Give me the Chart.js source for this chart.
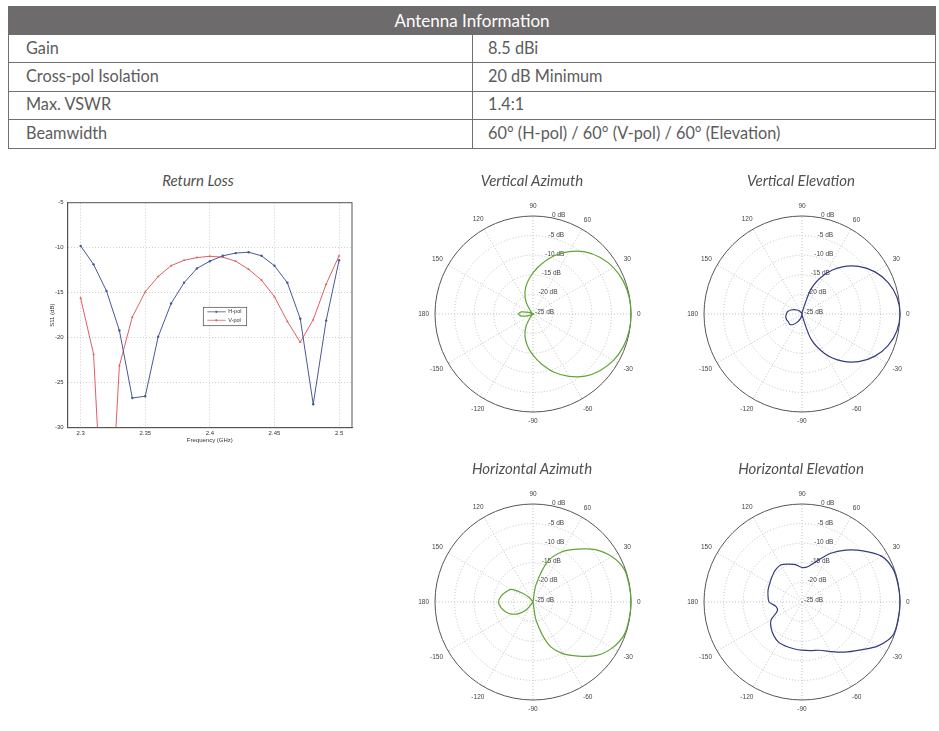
<!DOCTYPE html>
<html><head><meta charset="utf-8">
<script src="https://cdn.jsdelivr.net/npm/chart.js@4.4.1/dist/chart.umd.min.js"></script>
<style>
html,body{margin:0;padding:0;background:#fff;width:939px;height:731px;overflow:hidden;font-family:Lato,'Open Sans',sans-serif;}
.abs{position:absolute;}
.ttl{position:absolute;font-style:italic;font-size:15px;color:#505050;white-space:nowrap;transform:translateX(-50%);line-height:20px;z-index:5;}
.cell{position:absolute;font-size:16.3px;color:#5c5c5c;white-space:nowrap;line-height:20px;}
</style></head><body>
<div id="page"></div>
<script>
// ---------------- data ----------------
const tableHeader = 'Antenna Information';
const specNames  = ['Gain', 'Cross-pol Isolation', 'Max. VSWR', 'Beamwidth'];
const specValues = ['8.5 dBi', '20 dB Minimum', '1.4:1', '60° (H-pol) / 60° (V-pol) / 60° (Elevation)'];

const chartTitles = ['Return Loss', 'Vertical Azimuth', 'Vertical Elevation', 'Horizontal Azimuth', 'Horizontal Elevation'];

// Return loss
const freqGHz  = [2.30,2.31,2.32,2.33,2.34,2.35,2.36,2.37,2.38,2.39,2.40,2.41,2.42,2.43,2.44,2.45,2.46,2.47,2.48,2.49,2.50];
const s11HPol  = [-9.8,-11.85,-14.8,-19.2,-26.7,-26.5,-19.9,-16.2,-13.9,-12.3,-11.5,-10.9,-10.6,-10.5,-10.9,-12.0,-13.9,-17.9,-27.4,-18.1,-11.4];
const s11VPol  = [-15.6,-21.8,-49,-23.1,-17.7,-14.9,-13.2,-12.0,-11.4,-11.1,-10.95,-11.05,-11.5,-12.4,-13.6,-15.45,-18.2,-20.5,-18.0,-14.05,-10.9];
const freqTicks = [2.3, 2.35, 2.4, 2.45, 2.5];
const s11Ticks  = [-5, -10, -15, -20, -25, -30];
const seriesNames = ['H-pol', 'V-pol'];

// Radiation patterns (dB), angle order clockwise starting at 90° (top)
const patternAngles = [90,80,70,60,50,40,30,20,10,0,-10,-20,-30,-40,-50,-60,-70,-80,-90,-100,-110,-120,-130,-140,-150,-160,-170,180,170,160,150,140,130,120,110,100];
const angleTickLabels = [90,60,30,0,-30,-60,-90,-120,-150,180,150,120];
const ringTicks = [0,-5,-10,-15,-20,-25];

const vertAzimuth = [-14.5,-12,-9.2,-6.6,-4.3,-2.6,-1.3,-0.5,-0.1,0,
  -0.1,-0.5,-1.3,-2.6,-4.3,-6.6,-9.2,-12,-14.5,-16.8,-19,-21.5,-24,-25,-25,-23.8,-22,
  -21.3,
  -22,-23.8,-25,-25,-24,-21.5,-19,-16.8];
const vertElevation = [-25,-24.3,-18.1,-13.3,-9.4,-6.1,-3.5,-1.6,-0.4,0,
  -0.4,-1.6,-3.5,-6.1,-9.4,-13.3,-18.1,-24.3,-25,-24.5,-23.6,-22.6,-21.5,-20.9,-21.0,-20.8,-20.8,
  -21.0,
  -21.3,-22.0,-22.8,-23.4,-24.0,-24.6,-25,-25];
const horizAzimuth = [-25,-20.5,-14,-10.2,-7.4,-4.2,-1.8,-0.3,-0.1,0,
  -0.1,-0.3,-1.6,-3.8,-7.0,-9.8,-13.5,-20,-25,-25,-25,-25,-22.5,-20.5,-18.8,-17.6,-16.7,
  -16.2,
  -16.7,-17.6,-18.6,-21.5,-23.5,-25,-25,-25];
const horizElevation = [-16.2,-15.8,-13.9,-10.7,-7.7,-4.7,-1.6,-0.3,-0.1,0,
  -0.1,-0.3,-2.6,-5.9,-8.3,-10.4,-11.9,-12.4,-12.7,-12.9,-13.0,-13.1,-13.8,-14.7,-15.9,-18.3,-18.3,
  -16.6,
  -16.2,-15.8,-15.5,-15.0,-14.4,-14.1,-14.7,-15.3];

// ---------------- page helpers ----------------
const page = document.getElementById('page');
function box(css, text, cls) {
  const d = document.createElement('div');
  d.className = cls || 'abs';
  d.style.cssText += css;
  if (text !== undefined) d.textContent = text;
  page.appendChild(d);
  return d;
}
function makeCanvas(left, top, w, h) {
  const c = document.createElement('canvas');
  c.width = w; c.height = h;
  c.style.cssText = 'position:absolute;left:' + left + 'px;top:' + top + 'px;width:' + w + 'px;height:' + h + 'px;';
  page.appendChild(c);
  return c;
}

// ---------------- table ----------------
const lineCol = '#707070';
box('left:8px;top:6px;width:928px;height:29px;background:#6d6b6b;color:#fff;font-size:17px;line-height:29px;text-align:center;', tableHeader);
const rowTop = [35, 62, 90.5, 119, 147.5];
box('left:8px;top:35px;width:1px;height:113px;background:' + lineCol + ';');
box('left:935px;top:35px;width:1px;height:113px;background:' + lineCol + ';');
box('left:472px;top:35px;width:1px;height:113px;background:' + lineCol + ';');
for (let i = 1; i < rowTop.length; i++) {
  box('left:8px;top:' + rowTop[i] + 'px;width:928px;height:1px;background:' + lineCol + ';');
}
specNames.forEach((n, i) => {
  const mid = (rowTop[i] + rowTop[i + 1]) / 2;
  box('left:26px;top:' + (mid - 10.5) + 'px;', n, 'cell');
  box('left:488px;top:' + (mid - 10.5) + 'px;', specValues[i], 'cell');
});

// ---------------- titles ----------------
const titlePos = [[198, 170], [532, 170], [801, 170], [532, 458], [801, 458]];
chartTitles.forEach((t, i) => box('left:' + titlePos[i][0] + 'px;top:' + titlePos[i][1] + 'px;', t, 'ttl'));

// ---------------- return loss ----------------
const smallFont = {family: '"Liberation Sans", Arial, sans-serif', size: 6};
const rlColors = ['#47589a', '#e05f62'];
const rlFrame = {
  id: 'rlFrame',
  afterDatasetsDraw(chart) {
    const {ctx, chartArea: a} = chart;
    ctx.save();
    ctx.strokeStyle = '#555'; ctx.lineWidth = 1;
    ctx.strokeRect(a.left, a.top, a.right - a.left, a.bottom - a.top);
    const lx = a.left + 135.6, ly = a.top + 104.6, w = 43.4, h = 18.4;
    ctx.fillStyle = '#fff'; ctx.fillRect(lx, ly, w, h);
    ctx.strokeStyle = '#444'; ctx.lineWidth = 0.7; ctx.strokeRect(lx, ly, w, h);
    chart.data.datasets.forEach((ds, i) => {
      const y = ly + 4.5 + i * 8.5;
      ctx.strokeStyle = ds.borderColor; ctx.lineWidth = 0.8;
      ctx.beginPath(); ctx.moveTo(lx + 4, y); ctx.lineTo(lx + 22.5, y); ctx.stroke();
      ctx.fillStyle = ds.borderColor;
      ctx.beginPath(); ctx.arc(lx + 13, y, 1.1, 0, Math.PI * 2); ctx.fill();
      ctx.fillStyle = '#333'; ctx.font = '5.5px "Liberation Sans", Arial, sans-serif';
      ctx.textBaseline = 'middle'; ctx.textAlign = 'left';
      ctx.fillText(ds.label, lx + 25, y);
    });
    ctx.restore();
  }
};
new Chart(makeCanvas(30, 192, 335, 256), {
  type: 'line',
  data: {
    datasets: [
      {label: seriesNames[0], data: freqGHz.map((f, i) => ({x: f, y: s11HPol[i]})),
       borderColor: rlColors[0], backgroundColor: rlColors[0], borderWidth: 1,
       pointRadius: 1.2, pointStyle: 'circle', pointBorderWidth: 0, tension: 0},
      {label: seriesNames[1], data: freqGHz.map((f, i) => ({x: f, y: s11VPol[i]})),
       borderColor: rlColors[1], backgroundColor: rlColors[1], borderWidth: 1,
       pointRadius: 1.5, pointStyle: 'triangle', pointBorderWidth: 0, tension: 0}
    ]
  },
  options: {
    responsive: false, animation: false,
    layout: {padding: {left: 16, top: 10.7, right: 13, bottom: 0}},
    plugins: {legend: {display: false}, tooltip: {enabled: false}},
    scales: {
      x: {type: 'linear', min: 2.29, max: 2.51,
        afterBuildTicks: s => { s.ticks = freqTicks.map(v => ({value: v})); },
        afterFit: s => { s.height = 20.3; },
        ticks: {padding: 2, font: smallFont, color: '#333', maxRotation: 0, autoSkip: false, callback: v => String(v)},
        grid: {color: '#c2c2c2', lineWidth: 0.8, drawTicks: false},
        border: {display: true, color: '#555', width: 1, dash: [1, 2]},
        title: {display: true, text: 'Frequency (GHz)', font: smallFont, color: '#333', padding: {top: 0, bottom: 4.5}}
      },
      y: {type: 'linear', min: -30, max: -5,
        afterBuildTicks: s => { s.ticks = s11Ticks.map(v => ({value: v})); },
        afterFit: s => { s.width = 21.7; },
        ticks: {padding: 4, font: smallFont, color: '#333', autoSkip: false},
        grid: {color: '#c2c2c2', lineWidth: 0.8, drawTicks: false},
        border: {display: true, color: '#555', width: 1, dash: [1, 2]},
        title: {display: true, text: 'S11 (dB)', font: smallFont, color: '#333', padding: {top: 2.7, bottom: 0}}
      }
    }
  },
  plugins: [rlFrame]
});

// ---------------- polar patterns ----------------
const polarText = {
  id: 'polarText',
  beforeDatasetsDraw(chart) {
    const s = chart.scales.r, ctx = chart.ctx;
    ctx.save();
    ctx.font = '6.5px "Liberation Sans", Arial, sans-serif';
    ctx.fillStyle = '#444'; ctx.textAlign = 'center'; ctx.textBaseline = 'middle';
    const R = s.drawingArea;
    chart.data.labels.forEach((a, i) => {
      if (!angleTickLabels.includes(a)) return;
      const txt = String(a);
      const w = ctx.measureText(txt).width;
      const ang = s.getIndexAngle(i) - Math.PI / 2;
      const d = R + 6 + Math.abs(Math.cos(ang)) * w / 2 + Math.abs(Math.sin(ang)) * 3.5;
      const p = s.getPointPosition(i, d);
      ctx.fillText(txt, p.x, p.y);
    });
    ctx.textAlign = 'left';
    const t = 80 * Math.PI / 180;
    ringTicks.forEach(v => {
      const r = s.getDistanceFromCenterForValue(v);
      ctx.fillText(v + ' dB', s.xCenter + r * Math.cos(t) + 2, s.yCenter - r * Math.sin(t) - 2);
    });
    ctx.restore();
  }
};
function polarChart(left, top, values, color) {
  return new Chart(makeCanvas(left, top, 260, 260), {
    type: 'radar',
    data: {labels: patternAngles, datasets: [{data: values, borderColor: color, borderWidth: 1.2,
      pointRadius: 0, pointHitRadius: 0, fill: false, tension: 0.3}]},
    options: {
      responsive: false, animation: false,
      layout: {padding: 32},
      plugins: {legend: {display: false}, tooltip: {enabled: false}},
      elements: {line: {capBezierPoints: false}},
      scales: {
        r: {min: -25, max: 0, startAngle: 0, beginAtZero: false,
          ticks: {display: false, stepSize: 5},
          pointLabels: {display: false},
          grid: {circular: true,
            color: c => (c.tick && c.tick.value === 0) ? '#555' : '#b3b3b3',
            lineWidth: c => (c.tick && c.tick.value === 0) ? 1 : 0.8},
          border: {dash: c => (c.tick && c.tick.value === 0) ? [] : [1, 2]},
          angleLines: {display: true,
            color: c => (patternAngles[c.index] % 30 === 0) ? '#b3b3b3' : 'rgba(0,0,0,0)',
            lineWidth: c => (patternAngles[c.index] % 30 === 0) ? 0.8 : 0,
            borderDash: [1, 2]}
        }
      }
    },
    plugins: [polarText]
  });
}
polarChart(403, 184, vertAzimuth, '#62a436');
polarChart(672, 184, vertElevation, '#363c80');
polarChart(403, 472, horizAzimuth, '#62a436');
polarChart(672, 472, horizElevation, '#363c80');
</script>
</body></html>
